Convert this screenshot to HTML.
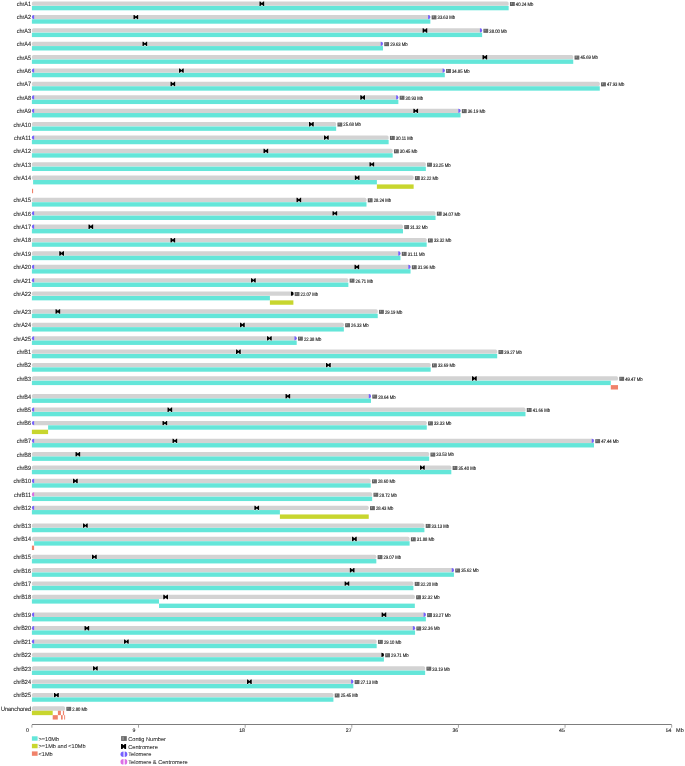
<!DOCTYPE html>
<html><head><meta charset="utf-8"><style>
html,body{margin:0;padding:0;background:#fff;}
svg{display:block;will-change:transform;}
text{font-family:"Liberation Sans",sans-serif;fill:#2a2a2a;text-rendering:geometricPrecision;}
.cl{font-size:5.5px;stroke:#2a2a2a;stroke-width:0.1px;}
.ll{font-size:4.2px;fill:#111;stroke:#111;stroke-width:0.1px;}
.tk{font-size:5.2px;stroke:#2a2a2a;stroke-width:0.12px;}
.tk2{font-size:5.5px;stroke:#2a2a2a;stroke-width:0.12px;}
.lg{font-size:5.6px;stroke:#2a2a2a;stroke-width:0.06px;}
</style></head><body>
<svg width="685" height="766" viewBox="0 0 685 766">
<rect width="685" height="766" fill="#fff"/>
<text transform="translate(31.0,6.00) scale(1,1.1)" class="cl" text-anchor="end">chrA1</text>
<rect x="31.90" y="1.50" width="476.76" height="4.30" fill="#d3d3d3" rx="1.6"/>
<rect x="31.90" y="5.90" width="476.76" height="4.40" fill="#64e6d9"/>
<path d="M259.45,1.50 L260.35,1.50 L261.85,3.00 L263.35,1.50 L264.25,1.50 L264.25,5.90 L263.35,5.90 L261.85,4.40 L260.35,5.90 L259.45,5.90 Z" fill="#000" stroke="#fff" stroke-width="0.8" stroke-linejoin="round" paint-order="stroke"/>
<rect x="509.96" y="2.00" width="4.80" height="4.00" fill="#5e5e5e"/>
<rect x="512.56" y="2.40" width="1.60" height="3.20" fill="#6c6c6c"/>
<rect x="511.06" y="2.50" width="1.00" height="2.00" fill="#a0a0a0"/>
<text transform="translate(515.86,5.90) scale(1,1.22)" class="ll">40.24 Mb</text>
<text transform="translate(31.0,19.39) scale(1,1.1)" class="cl" text-anchor="end">chrA2</text>
<rect x="31.90" y="14.89" width="398.45" height="4.30" fill="#d3d3d3" rx="1.6"/>
<rect x="31.90" y="19.29" width="398.45" height="4.40" fill="#64e6d9"/>
<path d="M133.45,14.89 L134.35,14.89 L135.85,16.39 L137.35,14.89 L138.25,14.89 L138.25,19.29 L137.35,19.29 L135.85,17.79 L134.35,19.29 L133.45,19.29 Z" fill="#000" stroke="#fff" stroke-width="0.8" stroke-linejoin="round" paint-order="stroke"/>
<path d="M34.10,14.89 A2.20,2.15 0 0 0 34.10,19.19 Z" fill="#7560ff"/>
<path d="M428.15,14.89 A2.20,2.15 0 0 1 428.15,19.19 Z" fill="#7560ff"/>
<rect x="431.65" y="15.39" width="4.80" height="4.00" fill="#5e5e5e"/>
<rect x="434.25" y="15.79" width="1.60" height="3.20" fill="#6c6c6c"/>
<rect x="432.75" y="15.89" width="1.00" height="2.00" fill="#a0a0a0"/>
<text transform="translate(437.55,19.29) scale(1,1.22)" class="ll">33.63 Mb</text>
<text transform="translate(31.0,32.79) scale(1,1.1)" class="cl" text-anchor="end">chrA3</text>
<rect x="31.90" y="28.29" width="450.22" height="4.30" fill="#d3d3d3" rx="1.6"/>
<rect x="31.90" y="32.69" width="450.22" height="4.40" fill="#64e6d9"/>
<path d="M422.55,28.29 L423.45,28.29 L424.95,29.79 L426.45,28.29 L427.35,28.29 L427.35,32.69 L426.45,32.69 L424.95,31.19 L423.45,32.69 L422.55,32.69 Z" fill="#000" stroke="#fff" stroke-width="0.8" stroke-linejoin="round" paint-order="stroke"/>
<path d="M479.92,28.29 A2.20,2.15 0 0 1 479.92,32.59 Z" fill="#7560ff"/>
<rect x="483.42" y="28.79" width="4.80" height="4.00" fill="#5e5e5e"/>
<rect x="486.02" y="29.19" width="1.60" height="3.20" fill="#6c6c6c"/>
<rect x="484.52" y="29.29" width="1.00" height="2.00" fill="#a0a0a0"/>
<text transform="translate(489.32,32.69) scale(1,1.22)" class="ll">38.00 Mb</text>
<text transform="translate(31.0,46.18) scale(1,1.1)" class="cl" text-anchor="end">chrA4</text>
<rect x="31.90" y="41.68" width="351.06" height="4.30" fill="#d3d3d3" rx="1.6"/>
<rect x="31.90" y="46.08" width="351.06" height="4.40" fill="#64e6d9"/>
<path d="M142.45,41.68 L143.35,41.68 L144.85,43.18 L146.35,41.68 L147.25,41.68 L147.25,46.08 L146.35,46.08 L144.85,44.58 L143.35,46.08 L142.45,46.08 Z" fill="#000" stroke="#fff" stroke-width="0.8" stroke-linejoin="round" paint-order="stroke"/>
<path d="M380.76,41.68 A2.20,2.15 0 0 1 380.76,45.98 Z" fill="#7560ff"/>
<rect x="384.26" y="42.18" width="4.80" height="4.00" fill="#5e5e5e"/>
<rect x="386.86" y="42.58" width="1.60" height="3.20" fill="#6c6c6c"/>
<rect x="385.36" y="42.68" width="1.00" height="2.00" fill="#a0a0a0"/>
<text transform="translate(390.16,46.08) scale(1,1.22)" class="ll">29.63 Mb</text>
<text transform="translate(31.0,59.57) scale(1,1.1)" class="cl" text-anchor="end">chrA5</text>
<rect x="31.90" y="55.07" width="541.34" height="4.30" fill="#d3d3d3" rx="1.6"/>
<rect x="31.90" y="59.47" width="541.34" height="4.40" fill="#64e6d9"/>
<path d="M482.45,55.07 L483.35,55.07 L484.85,56.57 L486.35,55.07 L487.25,55.07 L487.25,59.47 L486.35,59.47 L484.85,57.97 L483.35,59.47 L482.45,59.47 Z" fill="#000" stroke="#fff" stroke-width="0.8" stroke-linejoin="round" paint-order="stroke"/>
<rect x="574.54" y="55.57" width="4.80" height="4.00" fill="#5e5e5e"/>
<rect x="577.14" y="55.97" width="1.60" height="3.20" fill="#6c6c6c"/>
<rect x="575.64" y="56.07" width="1.00" height="2.00" fill="#a0a0a0"/>
<text transform="translate(580.44,59.47) scale(1,1.22)" class="ll">45.69 Mb</text>
<text transform="translate(31.0,72.97) scale(1,1.1)" class="cl" text-anchor="end">chrA6</text>
<rect x="31.90" y="68.47" width="412.90" height="4.30" fill="#d3d3d3" rx="1.6"/>
<rect x="31.90" y="72.87" width="412.90" height="4.40" fill="#64e6d9"/>
<path d="M178.95,68.47 L179.85,68.47 L181.35,69.97 L182.85,68.47 L183.75,68.47 L183.75,72.87 L182.85,72.87 L181.35,71.37 L179.85,72.87 L178.95,72.87 Z" fill="#000" stroke="#fff" stroke-width="0.8" stroke-linejoin="round" paint-order="stroke"/>
<path d="M34.10,68.47 A2.20,2.15 0 0 0 34.10,72.77 Z" fill="#7560ff"/>
<path d="M442.60,68.47 A2.20,2.15 0 0 1 442.60,72.77 Z" fill="#7560ff"/>
<rect x="446.10" y="68.97" width="4.80" height="4.00" fill="#5e5e5e"/>
<rect x="448.70" y="69.37" width="1.60" height="3.20" fill="#6c6c6c"/>
<rect x="447.20" y="69.47" width="1.00" height="2.00" fill="#a0a0a0"/>
<text transform="translate(452.00,72.87) scale(1,1.22)" class="ll">34.85 Mb</text>
<text transform="translate(31.0,86.36) scale(1,1.1)" class="cl" text-anchor="end">chrA7</text>
<rect x="31.90" y="81.86" width="567.87" height="4.30" fill="#d3d3d3" rx="1.6"/>
<rect x="31.90" y="86.26" width="567.87" height="4.40" fill="#64e6d9"/>
<path d="M170.45,81.86 L171.35,81.86 L172.85,83.36 L174.35,81.86 L175.25,81.86 L175.25,86.26 L174.35,86.26 L172.85,84.76 L171.35,86.26 L170.45,86.26 Z" fill="#000" stroke="#fff" stroke-width="0.8" stroke-linejoin="round" paint-order="stroke"/>
<rect x="601.07" y="82.36" width="4.80" height="4.00" fill="#5e5e5e"/>
<rect x="603.67" y="82.76" width="1.60" height="3.20" fill="#6c6c6c"/>
<rect x="602.17" y="82.86" width="1.00" height="2.00" fill="#a0a0a0"/>
<text transform="translate(606.97,86.26) scale(1,1.22)" class="ll">47.93 Mb</text>
<text transform="translate(31.0,99.75) scale(1,1.1)" class="cl" text-anchor="end">chrA8</text>
<rect x="31.90" y="95.25" width="366.46" height="4.30" fill="#d3d3d3" rx="1.6"/>
<rect x="31.90" y="99.65" width="366.46" height="4.40" fill="#64e6d9"/>
<path d="M360.25,95.25 L361.15,95.25 L362.65,96.75 L364.15,95.25 L365.05,95.25 L365.05,99.65 L364.15,99.65 L362.65,98.15 L361.15,99.65 L360.25,99.65 Z" fill="#000" stroke="#fff" stroke-width="0.8" stroke-linejoin="round" paint-order="stroke"/>
<path d="M34.10,95.25 A2.20,2.15 0 0 0 34.10,99.55 Z" fill="#7560ff"/>
<path d="M396.16,95.25 A2.20,2.15 0 0 1 396.16,99.55 Z" fill="#7560ff"/>
<rect x="399.66" y="95.75" width="4.80" height="4.00" fill="#5e5e5e"/>
<rect x="402.26" y="96.15" width="1.60" height="3.20" fill="#6c6c6c"/>
<rect x="400.76" y="96.25" width="1.00" height="2.00" fill="#a0a0a0"/>
<text transform="translate(405.56,99.65) scale(1,1.22)" class="ll">30.93 Mb</text>
<text transform="translate(31.0,113.14) scale(1,1.1)" class="cl" text-anchor="end">chrA9</text>
<rect x="31.90" y="108.64" width="428.66" height="4.30" fill="#d3d3d3" rx="1.6"/>
<rect x="31.90" y="113.04" width="428.66" height="4.40" fill="#64e6d9"/>
<path d="M413.35,108.64 L414.25,108.64 L415.75,110.14 L417.25,108.64 L418.15,108.64 L418.15,113.04 L417.25,113.04 L415.75,111.54 L414.25,113.04 L413.35,113.04 Z" fill="#000" stroke="#fff" stroke-width="0.8" stroke-linejoin="round" paint-order="stroke"/>
<path d="M34.10,108.64 A2.20,2.15 0 0 0 34.10,112.94 Z" fill="#7560ff"/>
<path d="M458.36,108.64 A2.20,2.15 0 0 1 458.36,112.94 Z" fill="#7560ff"/>
<rect x="461.86" y="109.14" width="4.80" height="4.00" fill="#5e5e5e"/>
<rect x="464.46" y="109.54" width="1.60" height="3.20" fill="#6c6c6c"/>
<rect x="462.96" y="109.64" width="1.00" height="2.00" fill="#a0a0a0"/>
<text transform="translate(467.76,113.04) scale(1,1.22)" class="ll">36.19 Mb</text>
<text transform="translate(31.0,126.54) scale(1,1.1)" class="cl" text-anchor="end">chrA10</text>
<rect x="31.90" y="122.04" width="304.26" height="4.30" fill="#d3d3d3" rx="1.6"/>
<rect x="31.90" y="126.44" width="304.26" height="4.40" fill="#64e6d9"/>
<path d="M308.95,122.04 L309.85,122.04 L311.35,123.54 L312.85,122.04 L313.75,122.04 L313.75,126.44 L312.85,126.44 L311.35,124.94 L309.85,126.44 L308.95,126.44 Z" fill="#000" stroke="#fff" stroke-width="0.8" stroke-linejoin="round" paint-order="stroke"/>
<rect x="337.46" y="122.54" width="4.80" height="4.00" fill="#5e5e5e"/>
<rect x="340.06" y="122.94" width="1.60" height="3.20" fill="#6c6c6c"/>
<rect x="338.56" y="123.04" width="1.00" height="2.00" fill="#a0a0a0"/>
<text transform="translate(343.36,126.44) scale(1,1.22)" class="ll">25.68 Mb</text>
<text transform="translate(31.0,139.93) scale(1,1.1)" class="cl" text-anchor="end">chrA11</text>
<rect x="31.90" y="135.43" width="356.74" height="4.30" fill="#d3d3d3" rx="1.6"/>
<rect x="31.90" y="139.83" width="356.74" height="4.40" fill="#64e6d9"/>
<path d="M323.95,135.43 L324.85,135.43 L326.35,136.93 L327.85,135.43 L328.75,135.43 L328.75,139.83 L327.85,139.83 L326.35,138.33 L324.85,139.83 L323.95,139.83 Z" fill="#000" stroke="#fff" stroke-width="0.8" stroke-linejoin="round" paint-order="stroke"/>
<path d="M34.10,135.43 A2.20,2.15 0 0 0 34.10,139.73 Z" fill="#7560ff"/>
<rect x="389.94" y="135.93" width="4.80" height="4.00" fill="#5e5e5e"/>
<rect x="392.54" y="136.33" width="1.60" height="3.20" fill="#6c6c6c"/>
<rect x="391.04" y="136.43" width="1.00" height="2.00" fill="#a0a0a0"/>
<text transform="translate(395.84,139.83) scale(1,1.22)" class="ll">30.11 Mb</text>
<text transform="translate(31.0,153.32) scale(1,1.1)" class="cl" text-anchor="end">chrA12</text>
<rect x="31.90" y="148.82" width="360.77" height="4.30" fill="#d3d3d3" rx="1.6"/>
<rect x="31.90" y="153.22" width="360.77" height="4.40" fill="#64e6d9"/>
<path d="M263.45,148.82 L264.35,148.82 L265.85,150.32 L267.35,148.82 L268.25,148.82 L268.25,153.22 L267.35,153.22 L265.85,151.72 L264.35,153.22 L263.45,153.22 Z" fill="#000" stroke="#fff" stroke-width="0.8" stroke-linejoin="round" paint-order="stroke"/>
<rect x="393.97" y="149.32" width="4.80" height="4.00" fill="#5e5e5e"/>
<rect x="396.57" y="149.72" width="1.60" height="3.20" fill="#6c6c6c"/>
<rect x="395.07" y="149.82" width="1.00" height="2.00" fill="#a0a0a0"/>
<text transform="translate(399.87,153.22) scale(1,1.22)" class="ll">30.45 Mb</text>
<text transform="translate(31.0,166.72) scale(1,1.1)" class="cl" text-anchor="end">chrA13</text>
<rect x="31.90" y="162.22" width="393.95" height="4.30" fill="#d3d3d3" rx="1.6"/>
<rect x="31.90" y="166.62" width="393.95" height="4.40" fill="#64e6d9"/>
<path d="M369.45,162.22 L370.35,162.22 L371.85,163.72 L373.35,162.22 L374.25,162.22 L374.25,166.62 L373.35,166.62 L371.85,165.12 L370.35,166.62 L369.45,166.62 Z" fill="#000" stroke="#fff" stroke-width="0.8" stroke-linejoin="round" paint-order="stroke"/>
<rect x="427.15" y="162.72" width="4.80" height="4.00" fill="#5e5e5e"/>
<rect x="429.75" y="163.12" width="1.60" height="3.20" fill="#6c6c6c"/>
<rect x="428.25" y="163.22" width="1.00" height="2.00" fill="#a0a0a0"/>
<text transform="translate(433.05,166.62) scale(1,1.22)" class="ll">33.25 Mb</text>
<text transform="translate(31.0,180.11) scale(1,1.1)" class="cl" text-anchor="end">chrA14</text>
<rect x="31.90" y="175.61" width="381.74" height="4.30" fill="#d3d3d3" rx="1.6"/>
<rect x="33.10" y="180.01" width="343.80" height="4.40" fill="#64e6d9"/>
<rect x="376.90" y="184.41" width="36.74" height="4.40" fill="#c8d62e"/>
<rect x="32.00" y="188.81" width="1.10" height="4.40" fill="#f0826a"/>
<path d="M354.75,175.61 L355.65,175.61 L357.15,177.11 L358.65,175.61 L359.55,175.61 L359.55,180.01 L358.65,180.01 L357.15,178.51 L355.65,180.01 L354.75,180.01 Z" fill="#000" stroke="#fff" stroke-width="0.8" stroke-linejoin="round" paint-order="stroke"/>
<rect x="414.94" y="176.11" width="4.80" height="4.00" fill="#5e5e5e"/>
<rect x="417.54" y="176.51" width="1.60" height="3.20" fill="#6c6c6c"/>
<rect x="416.04" y="176.61" width="1.00" height="2.00" fill="#a0a0a0"/>
<text transform="translate(420.84,180.01) scale(1,1.22)" class="ll">32.22 Mb</text>
<text transform="translate(31.0,202.30) scale(1,1.1)" class="cl" text-anchor="end">chrA15</text>
<rect x="31.90" y="197.80" width="334.59" height="4.30" fill="#d3d3d3" rx="1.6"/>
<rect x="31.90" y="202.20" width="334.59" height="4.40" fill="#64e6d9"/>
<path d="M296.45,197.80 L297.35,197.80 L298.85,199.30 L300.35,197.80 L301.25,197.80 L301.25,202.20 L300.35,202.20 L298.85,200.70 L297.35,202.20 L296.45,202.20 Z" fill="#000" stroke="#fff" stroke-width="0.8" stroke-linejoin="round" paint-order="stroke"/>
<rect x="367.79" y="198.30" width="4.80" height="4.00" fill="#5e5e5e"/>
<rect x="370.39" y="198.70" width="1.60" height="3.20" fill="#6c6c6c"/>
<rect x="368.89" y="198.80" width="1.00" height="2.00" fill="#a0a0a0"/>
<text transform="translate(373.69,202.20) scale(1,1.22)" class="ll">28.24 Mb</text>
<text transform="translate(31.0,215.70) scale(1,1.1)" class="cl" text-anchor="end">chrA16</text>
<rect x="31.90" y="211.20" width="403.66" height="4.30" fill="#d3d3d3" rx="1.6"/>
<rect x="31.90" y="215.60" width="403.66" height="4.40" fill="#64e6d9"/>
<path d="M332.45,211.20 L333.35,211.20 L334.85,212.70 L336.35,211.20 L337.25,211.20 L337.25,215.60 L336.35,215.60 L334.85,214.10 L333.35,215.60 L332.45,215.60 Z" fill="#000" stroke="#fff" stroke-width="0.8" stroke-linejoin="round" paint-order="stroke"/>
<path d="M34.10,211.20 A2.20,2.15 0 0 0 34.10,215.50 Z" fill="#7560ff"/>
<rect x="436.86" y="211.70" width="4.80" height="4.00" fill="#5e5e5e"/>
<rect x="439.46" y="212.10" width="1.60" height="3.20" fill="#6c6c6c"/>
<rect x="437.96" y="212.20" width="1.00" height="2.00" fill="#a0a0a0"/>
<text transform="translate(442.76,215.60) scale(1,1.22)" class="ll">34.07 Mb</text>
<text transform="translate(31.0,229.09) scale(1,1.1)" class="cl" text-anchor="end">chrA17</text>
<rect x="31.90" y="224.59" width="371.08" height="4.30" fill="#d3d3d3" rx="1.6"/>
<rect x="31.90" y="228.99" width="371.08" height="4.40" fill="#64e6d9"/>
<path d="M88.45,224.59 L89.35,224.59 L90.85,226.09 L92.35,224.59 L93.25,224.59 L93.25,228.99 L92.35,228.99 L90.85,227.49 L89.35,228.99 L88.45,228.99 Z" fill="#000" stroke="#fff" stroke-width="0.8" stroke-linejoin="round" paint-order="stroke"/>
<path d="M34.10,224.59 A2.20,2.15 0 0 0 34.10,228.89 Z" fill="#7560ff"/>
<rect x="404.28" y="225.09" width="4.80" height="4.00" fill="#5e5e5e"/>
<rect x="406.88" y="225.49" width="1.60" height="3.20" fill="#6c6c6c"/>
<rect x="405.38" y="225.59" width="1.00" height="2.00" fill="#a0a0a0"/>
<text transform="translate(410.18,228.99) scale(1,1.22)" class="ll">31.32 Mb</text>
<text transform="translate(31.0,242.48) scale(1,1.1)" class="cl" text-anchor="end">chrA18</text>
<rect x="31.90" y="237.98" width="394.78" height="4.30" fill="#d3d3d3" rx="1.6"/>
<rect x="31.90" y="242.38" width="394.78" height="4.40" fill="#64e6d9"/>
<path d="M170.45,237.98 L171.35,237.98 L172.85,239.48 L174.35,237.98 L175.25,237.98 L175.25,242.38 L174.35,242.38 L172.85,240.88 L171.35,242.38 L170.45,242.38 Z" fill="#000" stroke="#fff" stroke-width="0.8" stroke-linejoin="round" paint-order="stroke"/>
<rect x="427.98" y="238.48" width="4.80" height="4.00" fill="#5e5e5e"/>
<rect x="430.58" y="238.88" width="1.60" height="3.20" fill="#6c6c6c"/>
<rect x="429.08" y="238.98" width="1.00" height="2.00" fill="#a0a0a0"/>
<text transform="translate(433.88,242.38) scale(1,1.22)" class="ll">33.32 Mb</text>
<text transform="translate(31.0,255.87) scale(1,1.1)" class="cl" text-anchor="end">chrA19</text>
<rect x="31.90" y="251.37" width="368.59" height="4.30" fill="#d3d3d3" rx="1.6"/>
<rect x="31.90" y="255.77" width="368.59" height="4.40" fill="#64e6d9"/>
<path d="M59.25,251.37 L60.15,251.37 L61.65,252.87 L63.15,251.37 L64.05,251.37 L64.05,255.77 L63.15,255.77 L61.65,254.27 L60.15,255.77 L59.25,255.77 Z" fill="#000" stroke="#fff" stroke-width="0.8" stroke-linejoin="round" paint-order="stroke"/>
<path d="M398.29,251.37 A2.20,2.15 0 0 1 398.29,255.67 Z" fill="#7560ff"/>
<rect x="401.79" y="251.87" width="4.80" height="4.00" fill="#5e5e5e"/>
<rect x="404.39" y="252.27" width="1.60" height="3.20" fill="#6c6c6c"/>
<rect x="402.89" y="252.37" width="1.00" height="2.00" fill="#a0a0a0"/>
<text transform="translate(407.69,255.77) scale(1,1.22)" class="ll">31.11 Mb</text>
<text transform="translate(31.0,269.27) scale(1,1.1)" class="cl" text-anchor="end">chrA20</text>
<rect x="31.90" y="264.77" width="378.66" height="4.30" fill="#d3d3d3" rx="1.6"/>
<rect x="31.90" y="269.17" width="378.66" height="4.40" fill="#64e6d9"/>
<path d="M354.45,264.77 L355.35,264.77 L356.85,266.27 L358.35,264.77 L359.25,264.77 L359.25,269.17 L358.35,269.17 L356.85,267.67 L355.35,269.17 L354.45,269.17 Z" fill="#000" stroke="#fff" stroke-width="0.8" stroke-linejoin="round" paint-order="stroke"/>
<path d="M34.10,264.77 A2.20,2.15 0 0 0 34.10,269.07 Z" fill="#7560ff"/>
<path d="M408.36,264.77 A2.20,2.15 0 0 1 408.36,269.07 Z" fill="#7560ff"/>
<rect x="411.86" y="265.27" width="4.80" height="4.00" fill="#5e5e5e"/>
<rect x="414.46" y="265.67" width="1.60" height="3.20" fill="#6c6c6c"/>
<rect x="412.96" y="265.77" width="1.00" height="2.00" fill="#a0a0a0"/>
<text transform="translate(417.76,269.17) scale(1,1.22)" class="ll">31.96 Mb</text>
<text transform="translate(31.0,282.66) scale(1,1.1)" class="cl" text-anchor="end">chrA21</text>
<rect x="31.90" y="278.16" width="316.46" height="4.30" fill="#d3d3d3" rx="1.6"/>
<rect x="31.90" y="282.56" width="316.46" height="4.40" fill="#64e6d9"/>
<path d="M250.95,278.16 L251.85,278.16 L253.35,279.66 L254.85,278.16 L255.75,278.16 L255.75,282.56 L254.85,282.56 L253.35,281.06 L251.85,282.56 L250.95,282.56 Z" fill="#000" stroke="#fff" stroke-width="0.8" stroke-linejoin="round" paint-order="stroke"/>
<path d="M34.10,278.16 A2.20,2.15 0 0 0 34.10,282.46 Z" fill="#7560ff"/>
<rect x="349.66" y="278.66" width="4.80" height="4.00" fill="#5e5e5e"/>
<rect x="352.26" y="279.06" width="1.60" height="3.20" fill="#6c6c6c"/>
<rect x="350.76" y="279.16" width="1.00" height="2.00" fill="#a0a0a0"/>
<text transform="translate(355.56,282.56) scale(1,1.22)" class="ll">26.71 Mb</text>
<text transform="translate(31.0,296.05) scale(1,1.1)" class="cl" text-anchor="end">chrA22</text>
<rect x="31.90" y="291.55" width="261.49" height="4.30" fill="#d3d3d3" rx="1.6"/>
<rect x="31.90" y="295.95" width="238.00" height="4.40" fill="#64e6d9"/>
<rect x="269.90" y="300.35" width="23.49" height="4.40" fill="#c8d62e"/>
<path d="M290.89,291.55 A2.70,2.15 0 0 1 290.89,295.85 Z" fill="#000" stroke="#fff" stroke-width="1.0" paint-order="stroke"/>
<rect x="294.69" y="292.05" width="4.80" height="4.00" fill="#5e5e5e"/>
<rect x="297.29" y="292.45" width="1.60" height="3.20" fill="#6c6c6c"/>
<rect x="295.79" y="292.55" width="1.00" height="2.00" fill="#a0a0a0"/>
<text transform="translate(300.59,295.95) scale(1,1.22)" class="ll">22.07 Mb</text>
<text transform="translate(31.0,313.85) scale(1,1.1)" class="cl" text-anchor="end">chrA23</text>
<rect x="31.90" y="309.35" width="345.84" height="4.30" fill="#d3d3d3" rx="1.6"/>
<rect x="31.90" y="313.75" width="345.84" height="4.40" fill="#64e6d9"/>
<path d="M55.45,309.35 L56.35,309.35 L57.85,310.85 L59.35,309.35 L60.25,309.35 L60.25,313.75 L59.35,313.75 L57.85,312.25 L56.35,313.75 L55.45,313.75 Z" fill="#000" stroke="#fff" stroke-width="0.8" stroke-linejoin="round" paint-order="stroke"/>
<rect x="379.04" y="309.85" width="4.80" height="4.00" fill="#5e5e5e"/>
<rect x="381.64" y="310.25" width="1.60" height="3.20" fill="#6c6c6c"/>
<rect x="380.14" y="310.35" width="1.00" height="2.00" fill="#a0a0a0"/>
<text transform="translate(384.94,313.75) scale(1,1.22)" class="ll">29.19 Mb</text>
<text transform="translate(31.0,327.24) scale(1,1.1)" class="cl" text-anchor="end">chrA24</text>
<rect x="31.90" y="322.74" width="311.96" height="4.30" fill="#d3d3d3" rx="1.6"/>
<rect x="31.90" y="327.14" width="311.96" height="4.40" fill="#64e6d9"/>
<path d="M239.95,322.74 L240.85,322.74 L242.35,324.24 L243.85,322.74 L244.75,322.74 L244.75,327.14 L243.85,327.14 L242.35,325.64 L240.85,327.14 L239.95,327.14 Z" fill="#000" stroke="#fff" stroke-width="0.8" stroke-linejoin="round" paint-order="stroke"/>
<rect x="345.16" y="323.24" width="4.80" height="4.00" fill="#5e5e5e"/>
<rect x="347.76" y="323.64" width="1.60" height="3.20" fill="#6c6c6c"/>
<rect x="346.26" y="323.74" width="1.00" height="2.00" fill="#a0a0a0"/>
<text transform="translate(351.06,327.14) scale(1,1.22)" class="ll">26.33 Mb</text>
<text transform="translate(31.0,340.63) scale(1,1.1)" class="cl" text-anchor="end">chrA25</text>
<rect x="31.90" y="336.13" width="264.80" height="4.30" fill="#d3d3d3" rx="1.6"/>
<rect x="31.90" y="340.53" width="264.80" height="4.40" fill="#64e6d9"/>
<path d="M266.95,336.13 L267.85,336.13 L269.35,337.63 L270.85,336.13 L271.75,336.13 L271.75,340.53 L270.85,340.53 L269.35,339.03 L267.85,340.53 L266.95,340.53 Z" fill="#000" stroke="#fff" stroke-width="0.8" stroke-linejoin="round" paint-order="stroke"/>
<path d="M34.10,336.13 A2.20,2.15 0 0 0 34.10,340.43 Z" fill="#7560ff"/>
<path d="M294.50,336.13 A2.20,2.15 0 0 1 294.50,340.43 Z" fill="#7560ff"/>
<rect x="298.00" y="336.63" width="4.80" height="4.00" fill="#5e5e5e"/>
<rect x="300.60" y="337.03" width="1.60" height="3.20" fill="#6c6c6c"/>
<rect x="299.10" y="337.13" width="1.00" height="2.00" fill="#a0a0a0"/>
<text transform="translate(303.90,340.53) scale(1,1.22)" class="ll">22.38 Mb</text>
<text transform="translate(31.0,354.03) scale(1,1.1)" class="cl" text-anchor="end">chrB1</text>
<rect x="31.90" y="349.53" width="465.27" height="4.30" fill="#d3d3d3" rx="1.6"/>
<rect x="31.90" y="353.93" width="465.27" height="4.40" fill="#64e6d9"/>
<path d="M235.95,349.53 L236.85,349.53 L238.35,351.03 L239.85,349.53 L240.75,349.53 L240.75,353.93 L239.85,353.93 L238.35,352.43 L236.85,353.93 L235.95,353.93 Z" fill="#000" stroke="#fff" stroke-width="0.8" stroke-linejoin="round" paint-order="stroke"/>
<rect x="498.47" y="350.03" width="4.80" height="4.00" fill="#5e5e5e"/>
<rect x="501.07" y="350.43" width="1.60" height="3.20" fill="#6c6c6c"/>
<rect x="499.57" y="350.53" width="1.00" height="2.00" fill="#a0a0a0"/>
<text transform="translate(504.37,353.93) scale(1,1.22)" class="ll">39.27 Mb</text>
<text transform="translate(31.0,367.42) scale(1,1.1)" class="cl" text-anchor="end">chrB2</text>
<rect x="31.90" y="362.92" width="398.80" height="4.30" fill="#d3d3d3" rx="1.6"/>
<rect x="31.90" y="367.32" width="398.80" height="4.40" fill="#64e6d9"/>
<path d="M325.95,362.92 L326.85,362.92 L328.35,364.42 L329.85,362.92 L330.75,362.92 L330.75,367.32 L329.85,367.32 L328.35,365.82 L326.85,367.32 L325.95,367.32 Z" fill="#000" stroke="#fff" stroke-width="0.8" stroke-linejoin="round" paint-order="stroke"/>
<rect x="432.00" y="363.42" width="4.80" height="4.00" fill="#5e5e5e"/>
<rect x="434.60" y="363.82" width="1.60" height="3.20" fill="#6c6c6c"/>
<rect x="433.10" y="363.92" width="1.00" height="2.00" fill="#a0a0a0"/>
<text transform="translate(437.90,367.32) scale(1,1.22)" class="ll">33.69 Mb</text>
<text transform="translate(31.0,380.81) scale(1,1.1)" class="cl" text-anchor="end">chrB3</text>
<rect x="31.90" y="376.31" width="586.12" height="4.30" fill="#d3d3d3" rx="1.6"/>
<rect x="31.90" y="380.71" width="578.90" height="4.40" fill="#64e6d9"/>
<rect x="610.80" y="385.11" width="7.22" height="4.40" fill="#f0826a"/>
<path d="M471.95,376.31 L472.85,376.31 L474.35,377.81 L475.85,376.31 L476.75,376.31 L476.75,380.71 L475.85,380.71 L474.35,379.21 L472.85,380.71 L471.95,380.71 Z" fill="#000" stroke="#fff" stroke-width="0.8" stroke-linejoin="round" paint-order="stroke"/>
<rect x="619.32" y="376.81" width="4.80" height="4.00" fill="#5e5e5e"/>
<rect x="621.92" y="377.21" width="1.60" height="3.20" fill="#6c6c6c"/>
<rect x="620.42" y="377.31" width="1.00" height="2.00" fill="#a0a0a0"/>
<text transform="translate(625.22,380.71) scale(1,1.22)" class="ll">49.47 Mb</text>
<text transform="translate(31.0,398.60) scale(1,1.1)" class="cl" text-anchor="end">chrB4</text>
<rect x="31.90" y="394.10" width="339.09" height="4.30" fill="#d3d3d3" rx="1.6"/>
<rect x="31.90" y="398.50" width="339.09" height="4.40" fill="#64e6d9"/>
<path d="M285.45,394.10 L286.35,394.10 L287.85,395.60 L289.35,394.10 L290.25,394.10 L290.25,398.50 L289.35,398.50 L287.85,397.00 L286.35,398.50 L285.45,398.50 Z" fill="#000" stroke="#fff" stroke-width="0.8" stroke-linejoin="round" paint-order="stroke"/>
<path d="M368.79,394.10 A2.20,2.15 0 0 1 368.79,398.40 Z" fill="#7560ff"/>
<rect x="372.29" y="394.60" width="4.80" height="4.00" fill="#5e5e5e"/>
<rect x="374.89" y="395.00" width="1.60" height="3.20" fill="#6c6c6c"/>
<rect x="373.39" y="395.10" width="1.00" height="2.00" fill="#a0a0a0"/>
<text transform="translate(378.19,398.50) scale(1,1.22)" class="ll">28.64 Mb</text>
<text transform="translate(31.0,412.00) scale(1,1.1)" class="cl" text-anchor="end">chrB5</text>
<rect x="31.90" y="407.50" width="493.59" height="4.30" fill="#d3d3d3" rx="1.6"/>
<rect x="31.90" y="411.90" width="493.59" height="4.40" fill="#64e6d9"/>
<path d="M167.45,407.50 L168.35,407.50 L169.85,409.00 L171.35,407.50 L172.25,407.50 L172.25,411.90 L171.35,411.90 L169.85,410.40 L168.35,411.90 L167.45,411.90 Z" fill="#000" stroke="#fff" stroke-width="0.8" stroke-linejoin="round" paint-order="stroke"/>
<path d="M34.10,407.50 A2.20,2.15 0 0 0 34.10,411.80 Z" fill="#7560ff"/>
<rect x="526.79" y="408.00" width="4.80" height="4.00" fill="#5e5e5e"/>
<rect x="529.39" y="408.40" width="1.60" height="3.20" fill="#6c6c6c"/>
<rect x="527.89" y="408.50" width="1.00" height="2.00" fill="#a0a0a0"/>
<text transform="translate(532.69,411.90) scale(1,1.22)" class="ll">41.66 Mb</text>
<text transform="translate(31.0,425.39) scale(1,1.1)" class="cl" text-anchor="end">chrB6</text>
<rect x="31.90" y="420.89" width="394.89" height="4.30" fill="#d3d3d3" rx="1.6"/>
<rect x="48.10" y="425.29" width="378.69" height="4.40" fill="#64e6d9"/>
<rect x="31.90" y="429.69" width="16.20" height="4.40" fill="#c8d62e"/>
<path d="M162.45,420.89 L163.35,420.89 L164.85,422.39 L166.35,420.89 L167.25,420.89 L167.25,425.29 L166.35,425.29 L164.85,423.79 L163.35,425.29 L162.45,425.29 Z" fill="#000" stroke="#fff" stroke-width="0.8" stroke-linejoin="round" paint-order="stroke"/>
<path d="M34.10,420.89 A2.20,2.15 0 0 0 34.10,425.19 Z" fill="#7560ff"/>
<rect x="428.09" y="421.39" width="4.80" height="4.00" fill="#5e5e5e"/>
<rect x="430.69" y="421.79" width="1.60" height="3.20" fill="#6c6c6c"/>
<rect x="429.19" y="421.89" width="1.00" height="2.00" fill="#a0a0a0"/>
<text transform="translate(433.99,425.29) scale(1,1.22)" class="ll">33.33 Mb</text>
<text transform="translate(31.0,443.18) scale(1,1.1)" class="cl" text-anchor="end">chrB7</text>
<rect x="31.90" y="438.68" width="562.07" height="4.30" fill="#d3d3d3" rx="1.6"/>
<rect x="31.90" y="443.08" width="562.07" height="4.40" fill="#64e6d9"/>
<path d="M172.45,438.68 L173.35,438.68 L174.85,440.18 L176.35,438.68 L177.25,438.68 L177.25,443.08 L176.35,443.08 L174.85,441.58 L173.35,443.08 L172.45,443.08 Z" fill="#000" stroke="#fff" stroke-width="0.8" stroke-linejoin="round" paint-order="stroke"/>
<path d="M34.10,438.68 A2.20,2.15 0 0 0 34.10,442.98 Z" fill="#7560ff"/>
<path d="M591.77,438.68 A2.20,2.15 0 0 1 591.77,442.98 Z" fill="#7560ff"/>
<rect x="595.27" y="439.18" width="4.80" height="4.00" fill="#5e5e5e"/>
<rect x="597.87" y="439.58" width="1.60" height="3.20" fill="#6c6c6c"/>
<rect x="596.37" y="439.68" width="1.00" height="2.00" fill="#a0a0a0"/>
<text transform="translate(601.17,443.08) scale(1,1.22)" class="ll">47.44 Mb</text>
<text transform="translate(31.0,456.58) scale(1,1.1)" class="cl" text-anchor="end">chrB8</text>
<rect x="31.90" y="452.08" width="397.26" height="4.30" fill="#d3d3d3" rx="1.6"/>
<rect x="31.90" y="456.48" width="397.26" height="4.40" fill="#64e6d9"/>
<path d="M75.45,452.08 L76.35,452.08 L77.85,453.58 L79.35,452.08 L80.25,452.08 L80.25,456.48 L79.35,456.48 L77.85,454.98 L76.35,456.48 L75.45,456.48 Z" fill="#000" stroke="#fff" stroke-width="0.8" stroke-linejoin="round" paint-order="stroke"/>
<rect x="430.46" y="452.58" width="4.80" height="4.00" fill="#5e5e5e"/>
<rect x="433.06" y="452.98" width="1.60" height="3.20" fill="#6c6c6c"/>
<rect x="431.56" y="453.08" width="1.00" height="2.00" fill="#a0a0a0"/>
<text transform="translate(436.36,456.48) scale(1,1.22)" class="ll">33.53 Mb</text>
<text transform="translate(31.0,469.97) scale(1,1.1)" class="cl" text-anchor="end">chrB9</text>
<rect x="31.90" y="465.47" width="419.42" height="4.30" fill="#d3d3d3" rx="1.6"/>
<rect x="31.90" y="469.87" width="419.42" height="4.40" fill="#64e6d9"/>
<path d="M419.95,465.47 L420.85,465.47 L422.35,466.97 L423.85,465.47 L424.75,465.47 L424.75,469.87 L423.85,469.87 L422.35,468.37 L420.85,469.87 L419.95,469.87 Z" fill="#000" stroke="#fff" stroke-width="0.8" stroke-linejoin="round" paint-order="stroke"/>
<rect x="452.62" y="465.97" width="4.80" height="4.00" fill="#5e5e5e"/>
<rect x="455.22" y="466.37" width="1.60" height="3.20" fill="#6c6c6c"/>
<rect x="453.72" y="466.47" width="1.00" height="2.00" fill="#a0a0a0"/>
<text transform="translate(458.52,469.87) scale(1,1.22)" class="ll">35.40 Mb</text>
<text transform="translate(31.0,483.36) scale(1,1.1)" class="cl" text-anchor="end">chrB10</text>
<rect x="31.90" y="478.86" width="338.85" height="4.30" fill="#d3d3d3" rx="1.6"/>
<rect x="31.90" y="483.26" width="338.85" height="4.40" fill="#64e6d9"/>
<path d="M72.95,478.86 L73.85,478.86 L75.35,480.36 L76.85,478.86 L77.75,478.86 L77.75,483.26 L76.85,483.26 L75.35,481.76 L73.85,483.26 L72.95,483.26 Z" fill="#000" stroke="#fff" stroke-width="0.8" stroke-linejoin="round" paint-order="stroke"/>
<path d="M34.10,478.86 A2.20,2.15 0 0 0 34.10,483.16 Z" fill="#7560ff"/>
<rect x="372.05" y="479.36" width="4.80" height="4.00" fill="#5e5e5e"/>
<rect x="374.65" y="479.76" width="1.60" height="3.20" fill="#6c6c6c"/>
<rect x="373.15" y="479.86" width="1.00" height="2.00" fill="#a0a0a0"/>
<text transform="translate(377.95,483.26) scale(1,1.22)" class="ll">28.60 Mb</text>
<text transform="translate(31.0,496.75) scale(1,1.1)" class="cl" text-anchor="end">chrB11</text>
<rect x="31.90" y="492.25" width="340.27" height="4.30" fill="#d3d3d3" rx="1.6"/>
<rect x="31.90" y="496.65" width="340.27" height="4.40" fill="#64e6d9"/>
<path d="M34.10,492.25 A2.20,2.15 0 0 0 34.10,496.56 Z" fill="#dc6ee6"/>
<rect x="373.47" y="492.75" width="4.80" height="4.00" fill="#5e5e5e"/>
<rect x="376.07" y="493.15" width="1.60" height="3.20" fill="#6c6c6c"/>
<rect x="374.57" y="493.25" width="1.00" height="2.00" fill="#a0a0a0"/>
<text transform="translate(379.37,496.65) scale(1,1.22)" class="ll">28.72 Mb</text>
<text transform="translate(31.0,510.15) scale(1,1.1)" class="cl" text-anchor="end">chrB12</text>
<rect x="31.90" y="505.65" width="336.84" height="4.30" fill="#d3d3d3" rx="1.6"/>
<rect x="31.90" y="510.05" width="248.00" height="4.40" fill="#64e6d9"/>
<rect x="279.90" y="514.45" width="88.84" height="4.40" fill="#c8d62e"/>
<path d="M254.35,505.65 L255.25,505.65 L256.75,507.15 L258.25,505.65 L259.15,505.65 L259.15,510.05 L258.25,510.05 L256.75,508.55 L255.25,510.05 L254.35,510.05 Z" fill="#000" stroke="#fff" stroke-width="0.8" stroke-linejoin="round" paint-order="stroke"/>
<path d="M34.10,505.65 A2.20,2.15 0 0 0 34.10,509.95 Z" fill="#7560ff"/>
<rect x="370.04" y="506.15" width="4.80" height="4.00" fill="#5e5e5e"/>
<rect x="372.64" y="506.55" width="1.60" height="3.20" fill="#6c6c6c"/>
<rect x="371.14" y="506.65" width="1.00" height="2.00" fill="#a0a0a0"/>
<text transform="translate(375.94,510.05) scale(1,1.22)" class="ll">28.43 Mb</text>
<text transform="translate(31.0,527.94) scale(1,1.1)" class="cl" text-anchor="end">chrB13</text>
<rect x="31.90" y="523.44" width="392.52" height="4.30" fill="#d3d3d3" rx="1.6"/>
<rect x="31.90" y="527.84" width="392.52" height="4.40" fill="#64e6d9"/>
<path d="M82.95,523.44 L83.85,523.44 L85.35,524.94 L86.85,523.44 L87.75,523.44 L87.75,527.84 L86.85,527.84 L85.35,526.34 L83.85,527.84 L82.95,527.84 Z" fill="#000" stroke="#fff" stroke-width="0.8" stroke-linejoin="round" paint-order="stroke"/>
<rect x="425.72" y="523.94" width="4.80" height="4.00" fill="#5e5e5e"/>
<rect x="428.32" y="524.34" width="1.60" height="3.20" fill="#6c6c6c"/>
<rect x="426.82" y="524.44" width="1.00" height="2.00" fill="#a0a0a0"/>
<text transform="translate(431.62,527.84) scale(1,1.22)" class="ll">33.13 Mb</text>
<text transform="translate(31.0,541.33) scale(1,1.1)" class="cl" text-anchor="end">chrB14</text>
<rect x="31.90" y="536.83" width="377.71" height="4.30" fill="#d3d3d3" rx="1.6"/>
<rect x="34.10" y="541.23" width="375.51" height="4.40" fill="#64e6d9"/>
<rect x="31.90" y="545.63" width="2.20" height="4.40" fill="#f0826a"/>
<path d="M351.95,536.83 L352.85,536.83 L354.35,538.33 L355.85,536.83 L356.75,536.83 L356.75,541.23 L355.85,541.23 L354.35,539.73 L352.85,541.23 L351.95,541.23 Z" fill="#000" stroke="#fff" stroke-width="0.8" stroke-linejoin="round" paint-order="stroke"/>
<rect x="410.91" y="537.33" width="4.80" height="4.00" fill="#5e5e5e"/>
<rect x="413.51" y="537.73" width="1.60" height="3.20" fill="#6c6c6c"/>
<rect x="412.01" y="537.83" width="1.00" height="2.00" fill="#a0a0a0"/>
<text transform="translate(416.81,541.23) scale(1,1.22)" class="ll">31.88 Mb</text>
<text transform="translate(31.0,559.13) scale(1,1.1)" class="cl" text-anchor="end">chrB15</text>
<rect x="31.90" y="554.63" width="344.42" height="4.30" fill="#d3d3d3" rx="1.6"/>
<rect x="31.90" y="559.03" width="344.42" height="4.40" fill="#64e6d9"/>
<path d="M91.95,554.63 L92.85,554.63 L94.35,556.13 L95.85,554.63 L96.75,554.63 L96.75,559.03 L95.85,559.03 L94.35,557.53 L92.85,559.03 L91.95,559.03 Z" fill="#000" stroke="#fff" stroke-width="0.8" stroke-linejoin="round" paint-order="stroke"/>
<rect x="377.62" y="555.13" width="4.80" height="4.00" fill="#5e5e5e"/>
<rect x="380.22" y="555.53" width="1.60" height="3.20" fill="#6c6c6c"/>
<rect x="378.72" y="555.63" width="1.00" height="2.00" fill="#a0a0a0"/>
<text transform="translate(383.52,559.03) scale(1,1.22)" class="ll">29.07 Mb</text>
<text transform="translate(31.0,572.52) scale(1,1.1)" class="cl" text-anchor="end">chrB16</text>
<rect x="31.90" y="568.02" width="422.03" height="4.30" fill="#d3d3d3" rx="1.6"/>
<rect x="31.90" y="572.42" width="422.03" height="4.40" fill="#64e6d9"/>
<path d="M349.75,568.02 L350.65,568.02 L352.15,569.52 L353.65,568.02 L354.55,568.02 L354.55,572.42 L353.65,572.42 L352.15,570.92 L350.65,572.42 L349.75,572.42 Z" fill="#000" stroke="#fff" stroke-width="0.8" stroke-linejoin="round" paint-order="stroke"/>
<path d="M451.73,568.02 A2.20,2.15 0 0 1 451.73,572.32 Z" fill="#7560ff"/>
<rect x="455.23" y="568.52" width="4.80" height="4.00" fill="#5e5e5e"/>
<rect x="457.83" y="568.92" width="1.60" height="3.20" fill="#6c6c6c"/>
<rect x="456.33" y="569.02" width="1.00" height="2.00" fill="#a0a0a0"/>
<text transform="translate(461.13,572.42) scale(1,1.22)" class="ll">35.62 Mb</text>
<text transform="translate(31.0,585.91) scale(1,1.1)" class="cl" text-anchor="end">chrB17</text>
<rect x="31.90" y="581.41" width="381.51" height="4.30" fill="#d3d3d3" rx="1.6"/>
<rect x="31.90" y="585.81" width="381.51" height="4.40" fill="#64e6d9"/>
<path d="M344.55,581.41 L345.45,581.41 L346.95,582.91 L348.45,581.41 L349.35,581.41 L349.35,585.81 L348.45,585.81 L346.95,584.31 L345.45,585.81 L344.55,585.81 Z" fill="#000" stroke="#fff" stroke-width="0.8" stroke-linejoin="round" paint-order="stroke"/>
<rect x="414.71" y="581.91" width="4.80" height="4.00" fill="#5e5e5e"/>
<rect x="417.31" y="582.31" width="1.60" height="3.20" fill="#6c6c6c"/>
<rect x="415.81" y="582.41" width="1.00" height="2.00" fill="#a0a0a0"/>
<text transform="translate(420.61,585.81) scale(1,1.22)" class="ll">32.20 Mb</text>
<text transform="translate(31.0,599.31) scale(1,1.1)" class="cl" text-anchor="end">chrB18</text>
<rect x="31.90" y="594.81" width="382.93" height="4.30" fill="#d3d3d3" rx="1.6"/>
<rect x="31.90" y="599.21" width="127.10" height="4.40" fill="#64e6d9"/>
<rect x="159.00" y="603.61" width="255.83" height="4.40" fill="#64e6d9"/>
<path d="M163.25,594.81 L164.15,594.81 L165.65,596.31 L167.15,594.81 L168.05,594.81 L168.05,599.21 L167.15,599.21 L165.65,597.71 L164.15,599.21 L163.25,599.21 Z" fill="#000" stroke="#fff" stroke-width="0.8" stroke-linejoin="round" paint-order="stroke"/>
<rect x="416.13" y="595.31" width="4.80" height="4.00" fill="#5e5e5e"/>
<rect x="418.73" y="595.71" width="1.60" height="3.20" fill="#6c6c6c"/>
<rect x="417.23" y="595.81" width="1.00" height="2.00" fill="#a0a0a0"/>
<text transform="translate(422.03,599.21) scale(1,1.22)" class="ll">32.32 Mb</text>
<text transform="translate(31.0,617.10) scale(1,1.1)" class="cl" text-anchor="end">chrB19</text>
<rect x="31.90" y="612.60" width="393.95" height="4.30" fill="#d3d3d3" rx="1.6"/>
<rect x="31.90" y="617.00" width="393.95" height="4.40" fill="#64e6d9"/>
<path d="M381.55,612.60 L382.45,612.60 L383.95,614.10 L385.45,612.60 L386.35,612.60 L386.35,617.00 L385.45,617.00 L383.95,615.50 L382.45,617.00 L381.55,617.00 Z" fill="#000" stroke="#fff" stroke-width="0.8" stroke-linejoin="round" paint-order="stroke"/>
<path d="M34.10,612.60 A2.20,2.15 0 0 0 34.10,616.90 Z" fill="#7560ff"/>
<path d="M423.65,612.60 A2.20,2.15 0 0 1 423.65,616.90 Z" fill="#7560ff"/>
<rect x="427.15" y="613.10" width="4.80" height="4.00" fill="#5e5e5e"/>
<rect x="429.75" y="613.50" width="1.60" height="3.20" fill="#6c6c6c"/>
<rect x="428.25" y="613.60" width="1.00" height="2.00" fill="#a0a0a0"/>
<text transform="translate(433.05,617.00) scale(1,1.22)" class="ll">33.27 Mb</text>
<text transform="translate(31.0,630.49) scale(1,1.1)" class="cl" text-anchor="end">chrB20</text>
<rect x="31.90" y="625.99" width="383.16" height="4.30" fill="#d3d3d3" rx="1.6"/>
<rect x="31.90" y="630.39" width="383.16" height="4.40" fill="#64e6d9"/>
<path d="M84.45,625.99 L85.35,625.99 L86.85,627.49 L88.35,625.99 L89.25,625.99 L89.25,630.39 L88.35,630.39 L86.85,628.89 L85.35,630.39 L84.45,630.39 Z" fill="#000" stroke="#fff" stroke-width="0.8" stroke-linejoin="round" paint-order="stroke"/>
<path d="M34.10,625.99 A2.20,2.15 0 0 0 34.10,630.29 Z" fill="#7560ff"/>
<path d="M412.86,625.99 A2.20,2.15 0 0 1 412.86,630.29 Z" fill="#7560ff"/>
<rect x="416.36" y="626.49" width="4.80" height="4.00" fill="#5e5e5e"/>
<rect x="418.96" y="626.89" width="1.60" height="3.20" fill="#6c6c6c"/>
<rect x="417.46" y="626.99" width="1.00" height="2.00" fill="#a0a0a0"/>
<text transform="translate(422.26,630.39) scale(1,1.22)" class="ll">32.36 Mb</text>
<text transform="translate(31.0,643.89) scale(1,1.1)" class="cl" text-anchor="end">chrB21</text>
<rect x="31.90" y="639.39" width="344.78" height="4.30" fill="#d3d3d3" rx="1.6"/>
<rect x="31.90" y="643.79" width="344.78" height="4.40" fill="#64e6d9"/>
<path d="M123.95,639.39 L124.85,639.39 L126.35,640.89 L127.85,639.39 L128.75,639.39 L128.75,643.79 L127.85,643.79 L126.35,642.29 L124.85,643.79 L123.95,643.79 Z" fill="#000" stroke="#fff" stroke-width="0.8" stroke-linejoin="round" paint-order="stroke"/>
<path d="M34.10,639.39 A2.20,2.15 0 0 0 34.10,643.69 Z" fill="#7560ff"/>
<rect x="377.98" y="639.89" width="4.80" height="4.00" fill="#5e5e5e"/>
<rect x="380.58" y="640.29" width="1.60" height="3.20" fill="#6c6c6c"/>
<rect x="379.08" y="640.39" width="1.00" height="2.00" fill="#a0a0a0"/>
<text transform="translate(383.88,643.79) scale(1,1.22)" class="ll">29.10 Mb</text>
<text transform="translate(31.0,657.28) scale(1,1.1)" class="cl" text-anchor="end">chrB22</text>
<rect x="31.90" y="652.78" width="352.00" height="4.30" fill="#d3d3d3" rx="1.6"/>
<rect x="31.90" y="657.18" width="352.00" height="4.40" fill="#64e6d9"/>
<path d="M381.40,652.78 A2.70,2.15 0 0 1 381.40,657.08 Z" fill="#000" stroke="#fff" stroke-width="1.0" paint-order="stroke"/>
<rect x="385.20" y="653.28" width="4.80" height="4.00" fill="#5e5e5e"/>
<rect x="387.80" y="653.68" width="1.60" height="3.20" fill="#6c6c6c"/>
<rect x="386.30" y="653.78" width="1.00" height="2.00" fill="#a0a0a0"/>
<text transform="translate(391.10,657.18) scale(1,1.22)" class="ll">29.71 Mb</text>
<text transform="translate(31.0,670.67) scale(1,1.1)" class="cl" text-anchor="end">chrB23</text>
<rect x="31.90" y="666.17" width="393.24" height="4.30" fill="#d3d3d3" rx="1.6"/>
<rect x="31.90" y="670.57" width="393.24" height="4.40" fill="#64e6d9"/>
<path d="M92.95,666.17 L93.85,666.17 L95.35,667.67 L96.85,666.17 L97.75,666.17 L97.75,670.57 L96.85,670.57 L95.35,669.07 L93.85,670.57 L92.95,670.57 Z" fill="#000" stroke="#fff" stroke-width="0.8" stroke-linejoin="round" paint-order="stroke"/>
<rect x="426.44" y="666.67" width="4.80" height="4.00" fill="#5e5e5e"/>
<rect x="429.04" y="667.07" width="1.60" height="3.20" fill="#6c6c6c"/>
<rect x="427.54" y="667.17" width="1.00" height="2.00" fill="#a0a0a0"/>
<text transform="translate(432.34,670.57) scale(1,1.22)" class="ll">33.19 Mb</text>
<text transform="translate(31.0,684.06) scale(1,1.1)" class="cl" text-anchor="end">chrB24</text>
<rect x="31.90" y="679.56" width="321.44" height="4.30" fill="#d3d3d3" rx="1.6"/>
<rect x="31.90" y="683.96" width="321.44" height="4.40" fill="#64e6d9"/>
<path d="M246.95,679.56 L247.85,679.56 L249.35,681.06 L250.85,679.56 L251.75,679.56 L251.75,683.96 L250.85,683.96 L249.35,682.46 L247.85,683.96 L246.95,683.96 Z" fill="#000" stroke="#fff" stroke-width="0.8" stroke-linejoin="round" paint-order="stroke"/>
<path d="M351.14,679.56 A2.20,2.15 0 0 1 351.14,683.86 Z" fill="#7560ff"/>
<rect x="354.64" y="680.06" width="4.80" height="4.00" fill="#5e5e5e"/>
<rect x="357.24" y="680.46" width="1.60" height="3.20" fill="#6c6c6c"/>
<rect x="355.74" y="680.56" width="1.00" height="2.00" fill="#a0a0a0"/>
<text transform="translate(360.54,683.96) scale(1,1.22)" class="ll">27.13 Mb</text>
<text transform="translate(31.0,697.46) scale(1,1.1)" class="cl" text-anchor="end">chrB25</text>
<rect x="31.90" y="692.96" width="301.53" height="4.30" fill="#d3d3d3" rx="1.6"/>
<rect x="31.90" y="697.36" width="301.53" height="4.40" fill="#64e6d9"/>
<path d="M54.00,692.96 L54.90,692.96 L56.40,694.46 L57.90,692.96 L58.80,692.96 L58.80,697.36 L57.90,697.36 L56.40,695.86 L54.90,697.36 L54.00,697.36 Z" fill="#000" stroke="#fff" stroke-width="0.8" stroke-linejoin="round" paint-order="stroke"/>
<rect x="334.73" y="693.46" width="4.80" height="4.00" fill="#5e5e5e"/>
<rect x="337.33" y="693.86" width="1.60" height="3.20" fill="#6c6c6c"/>
<rect x="335.83" y="693.96" width="1.00" height="2.00" fill="#a0a0a0"/>
<text transform="translate(340.63,697.36) scale(1,1.22)" class="ll">25.45 Mb</text>
<text transform="translate(31.0,710.85) scale(1,1.1)" class="cl" text-anchor="end">Unanchored</text>
<rect x="31.90" y="706.35" width="33.17" height="4.30" fill="#d3d3d3" rx="1.6"/>
<rect x="31.90" y="710.75" width="20.80" height="4.40" fill="#c8d62e"/>
<rect x="52.70" y="715.15" width="5.10" height="4.40" fill="#f0826a"/>
<rect x="57.90" y="710.75" width="3.00" height="4.40" fill="#f0826a"/>
<rect x="61.00" y="715.15" width="1.70" height="4.40" fill="#f0826a"/>
<rect x="62.90" y="710.75" width="1.20" height="4.40" fill="#f0826a"/>
<rect x="64.20" y="715.15" width="0.90" height="4.40" fill="#f0826a"/>
<rect x="66.37" y="706.85" width="4.80" height="4.00" fill="#5e5e5e"/>
<rect x="68.97" y="707.25" width="1.60" height="3.20" fill="#6c6c6c"/>
<rect x="67.47" y="707.35" width="1.00" height="2.00" fill="#a0a0a0"/>
<text transform="translate(72.27,710.75) scale(1,1.22)" class="ll">2.80 Mb</text>
<line x1="31.90" y1="724.5" x2="671.7" y2="724.5" stroke="#7d7d7d" stroke-width="1"/>
<line x1="31.90" y1="725.0" x2="31.90" y2="727.7" stroke="#8c8c8c" stroke-width="0.8"/>
<text x="25.90" y="731.7" class="tk">0</text>
<line x1="138.53" y1="725.0" x2="138.53" y2="727.7" stroke="#8c8c8c" stroke-width="0.8"/>
<text x="132.53" y="731.7" class="tk">9</text>
<line x1="245.16" y1="725.0" x2="245.16" y2="727.7" stroke="#8c8c8c" stroke-width="0.8"/>
<text x="239.16" y="731.7" class="tk">18</text>
<line x1="351.80" y1="725.0" x2="351.80" y2="727.7" stroke="#8c8c8c" stroke-width="0.8"/>
<text x="345.80" y="731.7" class="tk">27</text>
<line x1="458.43" y1="725.0" x2="458.43" y2="727.7" stroke="#8c8c8c" stroke-width="0.8"/>
<text x="452.43" y="731.7" class="tk">36</text>
<line x1="565.06" y1="725.0" x2="565.06" y2="727.7" stroke="#8c8c8c" stroke-width="0.8"/>
<text x="559.06" y="731.7" class="tk">45</text>
<line x1="671.69" y1="725.0" x2="671.69" y2="727.7" stroke="#8c8c8c" stroke-width="0.8"/>
<text x="665.69" y="731.7" class="tk">54</text>
<text x="676.1" y="731.8" class="tk2">Mb</text>
<rect x="31.90" y="736.30" width="5.70" height="4.40" fill="#64e6d9"/>
<text x="38.5" y="740.90" class="lg">&gt;=10Mb</text>
<rect x="31.90" y="743.85" width="5.70" height="4.40" fill="#c8d62e"/>
<text x="38.5" y="748.10" class="lg">&gt;=1Mb and &lt;10Mb</text>
<rect x="31.90" y="751.40" width="5.70" height="4.40" fill="#f0826a"/>
<text x="38.5" y="755.90" class="lg">&lt;1Mb</text>
<rect x="121.10" y="736.10" width="5.70" height="4.80" fill="#6a6a6a"/>
<rect x="122.50" y="736.90" width="1.10" height="3.00" fill="#a8a8a8"/>
<text x="128.3" y="740.85" class="lg">Contig Number</text>
<path d="M121.00,743.90 L122.40,743.90 L123.55,745.20 L124.70,743.90 L126.10,743.90 L126.10,748.90 L124.70,748.90 L123.55,747.60 L122.40,748.90 L121.00,748.90 Z" fill="#000"/>
<text x="128.3" y="748.80" class="lg">Centromere</text>
<path d="M123.5,751.6 A3.0,2.75 0 0 0 123.5,757.1 Z" fill="#7560ff"/>
<path d="M124.7,751.6 A2.6,2.75 0 0 1 124.7,757.1 Z" fill="#7560ff"/>
<text x="128.3" y="756.20" class="lg">Telomere</text>
<path d="M123.5,759.1 A3.0,2.75 0 0 0 123.5,764.6 Z" fill="#dc6ee6"/>
<path d="M124.7,759.1 A2.6,2.75 0 0 1 124.7,764.6 Z" fill="#dc6ee6"/>
<text x="128.3" y="763.70" class="lg">Telomere &amp; Centromere</text>
</svg>
</body></html>
